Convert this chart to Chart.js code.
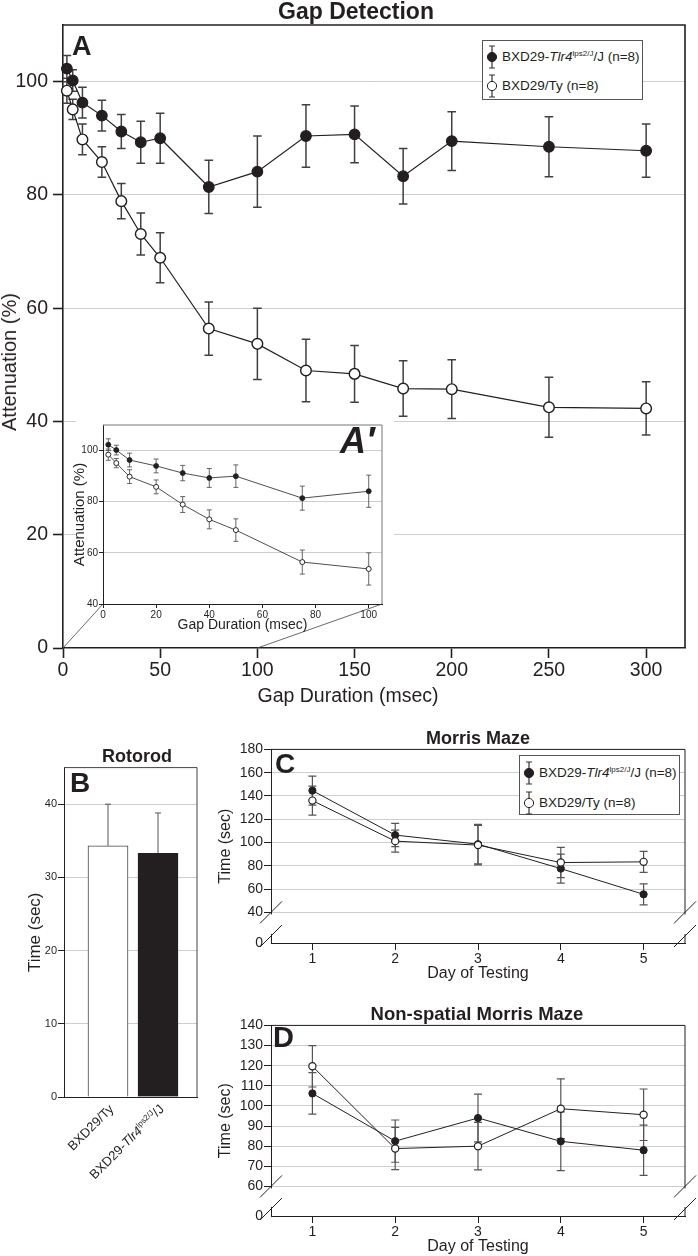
<!DOCTYPE html>
<html>
<head>
<meta charset="utf-8">
<script src="https://cdn.jsdelivr.net/npm/chart.js@4.4.1/dist/chart.umd.min.js"></script>
<style>
  html, body { margin: 0; padding: 0; background: #fff; }
  #fig { position: relative; width: 698px; height: 1256px; overflow: hidden;
         font-family: "Liberation Sans", Arial, sans-serif; color: #231f20; }
  #fig canvas { position: absolute; }
  .txt { position: absolute; white-space: nowrap; line-height: 1; }
  .mid { transform: translateX(-50%); }
  .bold { font-weight: bold; }
  .legend { position: absolute; box-sizing: border-box; width: 161px; height: 60px;
            border: 1px solid #555; background: #fff; }
  .legend .row { position: absolute; left: 19px; font-size: 13.5px; line-height: 16px; white-space: nowrap; }
  .legend svg { position: absolute; left: 1px; }
  sup { font-size: 8px; line-height: 0; vertical-align: 5px; }
  .xlab { position: absolute; white-space: nowrap; font-size: 13px; line-height: 16px;
          transform-origin: 100% 50%; transform: rotate(-45deg); }
</style>
</head>
<body>
<div id="fig">
  <canvas id="gap" width="698" height="715" style="left:0;top:0"></canvas>
  <canvas id="gapInset" width="336" height="228" style="left:66px;top:412px"></canvas>
  <canvas id="roto" width="210" height="345" style="left:0;top:760px"></canvas>
  <canvas id="morris" width="498" height="250" style="left:200px;top:740px"></canvas>
  <canvas id="nonspatial" width="498" height="240" style="left:200px;top:1016px"></canvas>

  <div class="txt mid bold" style="left:356px;top:0;font-size:23px">Gap Detection</div>
  <div class="txt bold" style="left:72px;top:33px;font-size:27px">A</div>
  <div class="txt bold" style="left:340px;top:423px;font-size:36px;font-style:italic">A′</div>
  <div class="txt" style="left:9px;top:362px;font-size:20px;transform:translate(-50%,-50%) rotate(-90deg)">Attenuation (%)</div>
  <div class="txt mid" style="left:348px;top:686px;font-size:19.5px">Gap Duration (msec)</div>

  <div class="txt mid bold" style="left:137px;top:747px;font-size:18px">Rotorod</div>
  <div class="txt bold" style="left:70px;top:769px;font-size:28px">B</div>
  <div class="txt mid bold" style="left:478px;top:729px;font-size:18px">Morris Maze</div>
  <div class="txt bold" style="left:275px;top:750px;font-size:28px">C</div>
  <div class="txt mid bold" style="left:477px;top:1005px;font-size:18.5px">Non-spatial Morris Maze</div>
  <div class="txt bold" style="left:273px;top:1023px;font-size:29px">D</div>
</div>
<script>
// strains
const STRAIN_TY = 'BXD29/Ty';
const STRAIN_TLR4 = 'BXD29-Tlr4lps2/J/J';
const GROUP_N = 8;

// A: gap detection, attenuation (%) +/- SEM
const GAP_MS = [2, 5, 10, 20, 30, 40, 50, 75, 100, 125, 150, 175, 200, 250, 300];
const GAP_TLR4 = [102.3, 100.2, 96.3, 94.0, 91.2, 89.3, 90.0, 81.4, 84.1, 90.4, 90.7, 83.3, 89.5, 88.5, 87.8];
const GAP_TLR4_SEM = [2.3, 1.9, 2.7, 2.7, 3.0, 3.7, 4.4, 4.7, 6.3, 5.5, 5.0, 4.9, 5.2, 5.3, 4.7];
const GAP_TY = [98.4, 95.1, 89.8, 85.8, 78.9, 73.1, 68.9, 56.4, 53.7, 49.0, 48.4, 45.8, 45.7, 42.5, 42.3];
const GAP_TY_SEM = [2.2, 1.8, 2.7, 2.7, 3.1, 3.7, 4.4, 4.7, 6.3, 5.5, 5.0, 4.9, 5.2, 5.3, 4.7];
const GAP_X_TICKS = [0, 50, 100, 150, 200, 250, 300];
const GAP_Y_TICKS = [0, 20, 40, 60, 80, 100];
const INSET_MAX_MS = 100;
const INSET_X_TICKS = [0, 20, 40, 60, 80, 100];
const INSET_Y_TICKS = [40, 60, 80, 100];

// B: rotorod
const ROTOROD_STRAINS = [STRAIN_TY, STRAIN_TLR4];
const ROTOROD_TIME = [34.3, 33.3];
const ROTOROD_SEM = [5.7, 5.5];
const ROTOROD_TICKS = [0, 10, 20, 30, 40];

// C, D: Morris maze latencies (sec) +/- SEM
const DAYS = [1, 2, 3, 4, 5];
const MORRIS_TLR4 = [144.6, 106.4, 98.6, 77.6, 55.5];
const MORRIS_TLR4_SEM = [12.5, 10, 17, 12.5, 9];
const MORRIS_TY = [136.0, 101.2, 97.8, 82.8, 83.4];
const MORRIS_TY_SEM = [12.5, 9.5, 17, 13, 9];
const MORRIS_TICKS = [40, 60, 80, 100, 120, 140, 160, 180];
const MORRIS_FLOOR = 13.7;      // broken axis: bottom edge is labelled 0

const NONSPATIAL_TLR4 = [106.2, 82.5, 94.0, 82.4, 78.0];
const NONSPATIAL_TLR4_SEM = [10.3, 10.5, 11.9, 14.6, 12.5];
const NONSPATIAL_TY = [119.7, 78.8, 80.0, 98.6, 95.6];
const NONSPATIAL_TY_SEM = [10.3, 10.5, 11.8, 14.8, 12.8];
const NONSPATIAL_TICKS = [60, 70, 80, 90, 100, 110, 120, 130, 140];
const NONSPATIAL_FLOOR = 45.3;

const INK = '#231f20';
const GRID = '#cdcdcd';
const NONE = 'rgba(0,0,0,0)';
const fig = document.getElementById('fig');

Chart.defaults.font.family = '"Liberation Sans", Arial, sans-serif';
Chart.defaults.color = INK;

const fixWidth = w => s => { s.width = w; };
const fixHeight = h => s => { s.height = h; };
const setTicks = vals => s => { s.ticks = vals.map(v => ({value: v})); };
const points = (xs, ys) => xs.map((x, i) => ({x, y: ys[i]}));
const strainHtml = name => name.replace('Tlr4lps2/J', '<i>Tlr4</i><sup>lps2/J</sup>');

function lineSet(label, data, filled, radius, lw) {
  return {
    label, data, clip: false,
    borderColor: INK, borderWidth: lw,
    pointRadius: radius, pointHoverRadius: radius,
    pointBackgroundColor: filled ? INK : '#fff',
    pointBorderColor: INK, pointBorderWidth: filled ? lw : lw * 1.2
  };
}

function drawErrors(chart, o) {
  const ctx = chart.ctx, ys = chart.scales.y;
  ctx.save();
  ctx.strokeStyle = o.color;
  ctx.lineWidth = o.width;
  o.sems.forEach((sem, i) => {
    const meta = chart.getDatasetMeta(i);
    chart.data.datasets[i].data.forEach((d, j) => {
      const x = meta.data[j].x;
      const top = ys.getPixelForValue(d.y + sem[j]);
      const bot = o.upOnly ? meta.data[j].y : ys.getPixelForValue(d.y - sem[j]);
      ctx.beginPath();
      ctx.moveTo(x, top); ctx.lineTo(x, bot);
      ctx.moveTo(x - o.cap, top); ctx.lineTo(x + o.cap, top);
      if (!o.upOnly) { ctx.moveTo(x - o.cap, bot); ctx.lineTo(x + o.cap, bot); }
      ctx.stroke();
    });
  });
  ctx.restore();
}

const errorBars = {
  id: 'errorBars',
  beforeDatasetsDraw(chart, args, o) { if (o.sems && !o.upOnly) drawErrors(chart, o); },
  afterDatasetsDraw(chart, args, o) { if (o.sems && o.upOnly) drawErrors(chart, o); }
};

// top and right edges of the plot box
const frame = {
  id: 'frame',
  afterDraw(chart, args, o) {
    const {ctx, chartArea: a} = chart;
    ctx.save();
    ctx.strokeStyle = o.color || INK;
    ctx.lineWidth = o.width || 1;
    ctx.beginPath();
    ctx.moveTo(a.left, a.top); ctx.lineTo(a.right, a.top); ctx.lineTo(a.right, a.bottom);
    ctx.stroke();
    ctx.restore();
  }
};

// white patch behind the inset so the main grid stops short of it
const insetBackdrop = {
  id: 'insetBackdrop',
  beforeDatasetsDraw(chart, args, o) {
    if (!o.rect) return;
    chart.ctx.fillStyle = '#fff';
    chart.ctx.fillRect(...o.rect);
  }
};

const zoomLines = {
  id: 'zoomLines',
  afterDraw(chart, args, o) {
    if (!o.to) return;
    const {ctx} = chart, xs = chart.scales.x, ys = chart.scales.y;
    ctx.save();
    ctx.strokeStyle = '#444';
    ctx.lineWidth = 0.8;
    o.from.forEach((v, i) => {
      ctx.beginPath();
      ctx.moveTo(xs.getPixelForValue(v), ys.getPixelForValue(0));
      ctx.lineTo(o.to[i][0], o.to[i][1]);
      ctx.stroke();
    });
    ctx.restore();
  }
};

// "//" marks where the y axis is broken
const axisBreak = {
  id: 'axisBreak',
  afterDraw(chart, args, o) {
    if (o.at === undefined) return;
    const {ctx, chartArea: a} = chart;
    const y1 = chart.scales.y.getPixelForValue(o.at);
    const y2 = a.bottom - 7;
    ctx.save();
    [a.left, a.right].forEach(x => {
      ctx.strokeStyle = '#fff'; ctx.lineWidth = 3;
      ctx.beginPath(); ctx.moveTo(x, y1 + 2); ctx.lineTo(x, y2 - 2); ctx.stroke();
      ctx.strokeStyle = INK; ctx.lineWidth = 1;
      [y1, y2].forEach(y => {
        ctx.beginPath(); ctx.moveTo(x - 11, y + 11); ctx.lineTo(x + 11, y - 11); ctx.stroke();
      });
    });
    ctx.restore();
  }
};

// ---------- A' inset ----------
const insetCanvas = document.getElementById('gapInset');
const keep = GAP_MS.map(x => x <= INSET_MAX_MS);
const insetOnly = arr => arr.filter((_, i) => keep[i]);

const gapInset = new Chart(insetCanvas, {
  type: 'line',
  data: { datasets: [
    lineSet(STRAIN_TY, points(insetOnly(GAP_MS), insetOnly(GAP_TY)), false, 2.5, 0.8),
    lineSet(STRAIN_TLR4, points(insetOnly(GAP_MS), insetOnly(GAP_TLR4)), true, 2.5, 0.8)
  ]},
  options: {
    responsive: false, animation: false,
    layout: { padding: { left: 0, top: 13, right: 20, bottom: 6 } },
    plugins: {
      legend: { display: false }, tooltip: { enabled: false },
      errorBars: { sems: [insetOnly(GAP_TY_SEM), insetOnly(GAP_TLR4_SEM)], color: '#555', width: 0.9, cap: 2.5 },
      frame: { color: '#777', width: 1 }
    },
    scales: {
      x: { type: 'linear', min: 0, max: 105, afterBuildTicks: setTicks(INSET_X_TICKS), afterFit: fixHeight(30),
           grid: { drawOnChartArea: false, tickLength: 4, tickColor: INK },
           border: { color: INK, width: 1 },
           ticks: { font: { size: 10 }, padding: 1, maxRotation: 0 },
           title: { display: true, text: 'Gap Duration (msec)', font: { size: 14 }, padding: 0 } },
      y: { min: 40, max: 110, afterBuildTicks: setTicks(INSET_Y_TICKS), afterFit: fixWidth(37),
           grid: { color: c => c.tick && c.tick.value === 40 ? NONE : GRID, tickLength: 4, tickColor: INK },
           border: { color: INK, width: 1 },
           ticks: { font: { size: 10 }, padding: 1 },
           title: { display: true, text: 'Attenuation (%)', font: { size: 15 }, padding: { top: 5, bottom: 0 } } }
    }
  },
  plugins: [errorBars, frame]
});

const ia = gapInset.chartArea;
const insetCorners = [
  [insetCanvas.offsetLeft + ia.left, insetCanvas.offsetTop + ia.bottom],
  [insetCanvas.offsetLeft + ia.right, insetCanvas.offsetTop + ia.bottom]
];

// ---------- A main ----------
new Chart(document.getElementById('gap'), {
  type: 'line',
  data: { datasets: [
    lineSet(STRAIN_TY, points(GAP_MS, GAP_TY), false, 5.3, 1.2),
    lineSet(STRAIN_TLR4, points(GAP_MS, GAP_TLR4), true, 5.3, 1.2)
  ]},
  options: {
    responsive: false, animation: false,
    layout: { padding: { left: 0, top: 25, right: 13, bottom: 4 } },
    plugins: {
      legend: { display: false }, tooltip: { enabled: false },
      insetBackdrop: { rect: [76, 415, 318, 225] },
      errorBars: { sems: [GAP_TY_SEM, GAP_TLR4_SEM], color: '#404040', width: 1.5, cap: 4.3 },
      frame: { color: INK, width: 1.6 },
      zoomLines: { from: [0, INSET_MAX_MS], to: insetCorners }
    },
    scales: {
      x: { type: 'linear', min: 0, max: 320, afterBuildTicks: setTicks(GAP_X_TICKS), afterFit: fixHeight(63),
           grid: { drawOnChartArea: false, tickLength: 10, tickColor: INK, tickWidth: 1.6 },
           border: { color: INK, width: 1.6 },
           ticks: { font: { size: 19.5 }, padding: 1, maxRotation: 0 } },
      y: { min: 0, max: 110, afterBuildTicks: setTicks(GAP_Y_TICKS), afterFit: fixWidth(63),
           grid: { color: c => c.tick && c.tick.value === 0 ? NONE : GRID, tickLength: 10, tickColor: INK, tickWidth: 1.6 },
           border: { color: INK, width: 1.6 },
           ticks: { font: { size: 19.5 }, padding: 5 } }
    }
  },
  plugins: [insetBackdrop, errorBars, frame, zoomLines]
});

// ---------- B rotorod ----------
const rotoCanvas = document.getElementById('roto');
const roto = new Chart(rotoCanvas, {
  type: 'bar',
  data: { datasets: [{
    data: ROTOROD_STRAINS.map((s, i) => ({x: i + 1, y: ROTOROD_TIME[i]})),
    backgroundColor: ['#fff', INK], borderColor: ['#444', INK], borderWidth: 1,
    borderSkipped: 'start', barThickness: 40
  }]},
  options: {
    responsive: false, animation: false,
    layout: { padding: { left: 0, top: 6, right: 13, bottom: 8 } },
    plugins: {
      legend: { display: false }, tooltip: { enabled: false },
      errorBars: { sems: [ROTOROD_SEM], color: '#555', width: 1, cap: 3, upOnly: true },
      frame: { color: '#444', width: 1 }
    },
    scales: {
      x: { type: 'linear', min: 0.12, max: 2.78, offset: false, afterFit: fixHeight(0),
           ticks: { display: false }, grid: { drawOnChartArea: false, drawTicks: false },
           border: { color: INK, width: 1 } },
      y: { min: 0, max: 45, afterBuildTicks: setTicks(ROTOROD_TICKS), afterFit: fixWidth(64),
           grid: { color: c => c.tick && c.tick.value === 0 ? NONE : GRID, tickLength: 6, tickColor: INK },
           border: { color: INK, width: 1 },
           ticks: { font: { size: 11 }, padding: 1 },
           title: { display: true, text: 'Time (sec)', font: { size: 17 }, padding: { top: 25.5, bottom: 0 } } }
    }
  },
  plugins: [errorBars, frame]
});

ROTOROD_STRAINS.forEach((name, i) => {
  const el = document.createElement('div');
  el.className = 'xlab';
  el.innerHTML = strainHtml(name);
  const ax = rotoCanvas.offsetLeft + roto.scales.x.getPixelForValue(i + 1) + 4;
  const ay = rotoCanvas.offsetTop + roto.chartArea.bottom + 10;
  el.style.right = (698 - ax) + 'px';
  el.style.top = (ay - 8) + 'px';
  fig.appendChild(el);
});

// ---------- C, D Morris maze ----------
function mazeChart(id, ty, tySem, tlr4, tlr4Sem, ticks, floor, breakAt, max) {
  return new Chart(document.getElementById(id), {
    type: 'line',
    data: { datasets: [
      lineSet(STRAIN_TY, points(DAYS, ty), false, 3.6, 1),
      lineSet(STRAIN_TLR4, points(DAYS, tlr4), true, 3.6, 1)
    ]},
    options: {
      responsive: false, animation: false,
      layout: { padding: { left: 0, top: 7, right: 13, bottom: id === 'morris' ? 7 : 0 } },
      plugins: {
        legend: { display: false }, tooltip: { enabled: false },
        errorBars: { sems: [tySem, tlr4Sem], color: '#555', width: 1.2, cap: 4 },
        frame: { color: INK, width: 1 },
        axisBreak: { at: breakAt }
      },
      scales: {
        x: { type: 'linear', min: 0.5, max: 5.5, afterBuildTicks: setTicks(DAYS), afterFit: fixHeight(40),
             grid: { drawOnChartArea: false, tickLength: 7, tickColor: INK },
             border: { color: INK, width: 1 },
             ticks: { font: { size: 14 }, padding: 1, maxRotation: 0 },
             title: { display: true, text: 'Day of Testing', font: { size: 16 }, padding: 0 } },
        y: { min: floor, max, afterBuildTicks: setTicks([floor, ...ticks]), afterFit: fixWidth(71),
             grid: { color: c => c.tick && c.tick.value === floor ? NONE : GRID,
                     tickColor: c => c.tick && c.tick.value === floor ? NONE : INK, tickLength: 7 },
             border: { color: INK, width: 1 },
             ticks: { font: { size: 14 }, padding: 1, callback: v => v === floor ? '0' : v },
             title: { display: true, text: 'Time (sec)', font: { size: 16 }, padding: { top: 16.4, bottom: 0 } } }
      }
    },
    plugins: [errorBars, frame, axisBreak]
  });
}

mazeChart('morris', MORRIS_TY, MORRIS_TY_SEM, MORRIS_TLR4, MORRIS_TLR4_SEM, MORRIS_TICKS, MORRIS_FLOOR, 40, 180);
mazeChart('nonspatial', NONSPATIAL_TY, NONSPATIAL_TY_SEM, NONSPATIAL_TLR4, NONSPATIAL_TLR4_SEM, NONSPATIAL_TICKS, NONSPATIAL_FLOOR, 60, 140);

// ---------- legends ----------
function marker(filled) {
  return '<svg width="14" height="28" viewBox="0 0 14 28">' +
    '<path d="M7 3V25M4 3H10M4 25H10" stroke="#333" stroke-width="1.2" fill="none"/>' +
    '<circle cx="7" cy="14" r="4.6" fill="' + (filled ? INK : '#fff') + '" stroke="' + INK + '" stroke-width="1"/></svg>';
}
function addLegend(left, top, firstRow, rowGap) {
  const box = document.createElement('div');
  box.className = 'legend';
  box.style.left = left + 'px';
  box.style.top = top + 'px';
  [[STRAIN_TLR4, true], [STRAIN_TY, false]].forEach(([name, filled], k) => {
    const cy = firstRow + k * rowGap;
    box.insertAdjacentHTML('beforeend',
      '<span style="position:absolute;left:1px;top:' + (cy - 14) + 'px">' + marker(filled) + '</span>' +
      '<div class="row" style="top:' + (cy - 8) + 'px">' + strainHtml(name) + ' (n=' + GROUP_N + ')</div>');
  });
  fig.appendChild(box);
}
addLegend(482, 40, 16, 28.5);
addLegend(519, 755, 16.5, 30);
</script>
</body>
</html>
